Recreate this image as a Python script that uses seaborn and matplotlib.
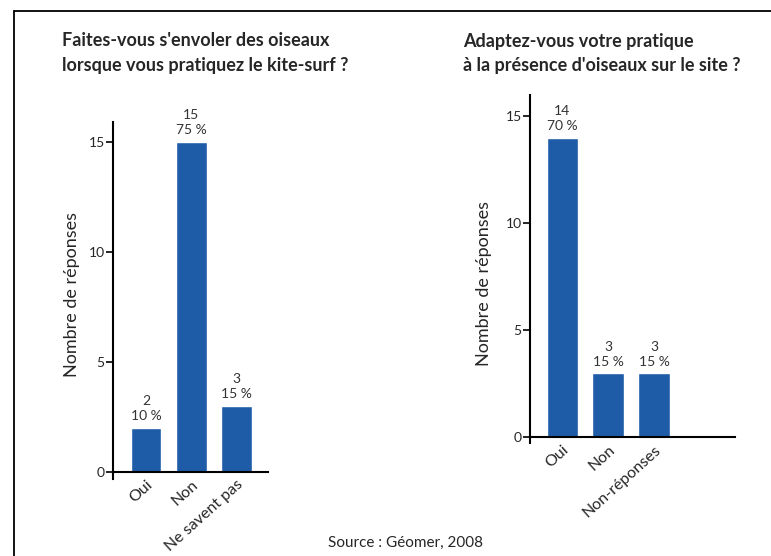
import matplotlib
matplotlib.use("Agg")
import matplotlib.pyplot as plt
import seaborn as sns
from matplotlib.lines import Line2D

# data
cats_left = ["Oui", "Non", "Ne savent pas"]
vals_left = [2, 15, 3]
pct_left = ["10 %", "75 %", "15 %"]

cats_right = ["Oui", "Non", "Non-réponses"]
vals_right = [14, 3, 3]
pct_right = ["70 %", "15 %", "15 %"]

title_left = "Faites-vous s'envoler des oiseaux\nlorsque vous pratiquez le kite-surf ?"
title_right = "Adaptez-vous votre pratique\nà la présence d'oiseaux sur le site ?"
source = "Source : Géomer, 2008"

BLUE = "#1e5ca8"

sns.set_theme(style="white")
plt.rcParams["font.family"] = ["Lato", "DejaVu Sans"]

fig = plt.figure(figsize=(7.71, 5.56), dpi=100)

# frame lines (left and top only are visible)
fig.add_artist(Line2D([14 / 771, 14 / 771], [0, 1 - 11 / 556], color="black", lw=1.3))
fig.add_artist(Line2D([14 / 771, 1], [1 - 11 / 556, 1 - 11 / 556], color="black", lw=1.3))

ax1 = fig.add_axes([0.1466, 0.1392, 0.201, 0.6414])
ax2 = fig.add_axes([0.6874, 0.2025, 0.2659, 0.6266])


def draw(ax, cats, vals, pcts, ylim, xlim):
    sns.barplot(x=cats, y=vals, color=BLUE, width=0.68, saturation=1, ax=ax)
    for i, (v, p) in enumerate(zip(vals, pcts)):
        ax.text(i, v + 0.25, f"{v}\n{p}", ha="center", va="bottom",
                fontsize=10, color="#333333", linespacing=1.3)
    ax.set_ylim(*ylim)
    ax.set_xlim(*xlim)
    ax.set_yticks([0, 5, 10, 15])
    for s in ["top", "right"]:
        ax.spines[s].set_visible(False)
    ax.spines["left"].set_color("black")
    ax.spines["bottom"].set_color("black")
    ax.spines["left"].set_linewidth(1.5)
    ax.spines["bottom"].set_linewidth(1.5)
    ax.spines["bottom"].set_position(("data", 0))
    ax.tick_params(axis="y", direction="out", length=5, width=1.2,
                   color="black", labelsize=10, pad=1, left=True)
    ax.tick_params(axis="x", length=0, labelsize=11.5, pad=4)
    for lab in ax.get_xticklabels():
        lab.set_rotation(42)
        lab.set_ha("right")
        lab.set_rotation_mode("anchor")
    ax.set_ylabel("Nombre de réponses", fontsize=13)
    ax.set_xlabel("")


draw(ax1, cats_left, vals_left, pct_left, (-0.3, 15.9), (-0.73, 2.7))
draw(ax2, cats_right, vals_right, pct_right, (-0.3, 16.0), (-0.7, 3.76))

ax1.yaxis.set_label_coords(-0.21, 0.515)
ax2.yaxis.set_label_coords(-0.185, 0.46)

fig.text(62 / 771, 1 - 53 / 556, title_left, fontsize=13, fontweight="bold",
         ha="left", va="center", linespacing=1.5)
fig.text(463 / 771, 1 - 53 / 556, title_right, fontsize=13, fontweight="bold",
         ha="left", va="center", linespacing=1.5)
fig.text(405 / 771, 1 - 543 / 556, source, fontsize=11, ha="center", va="center")

fig.savefig("out.png", dpi=100)
